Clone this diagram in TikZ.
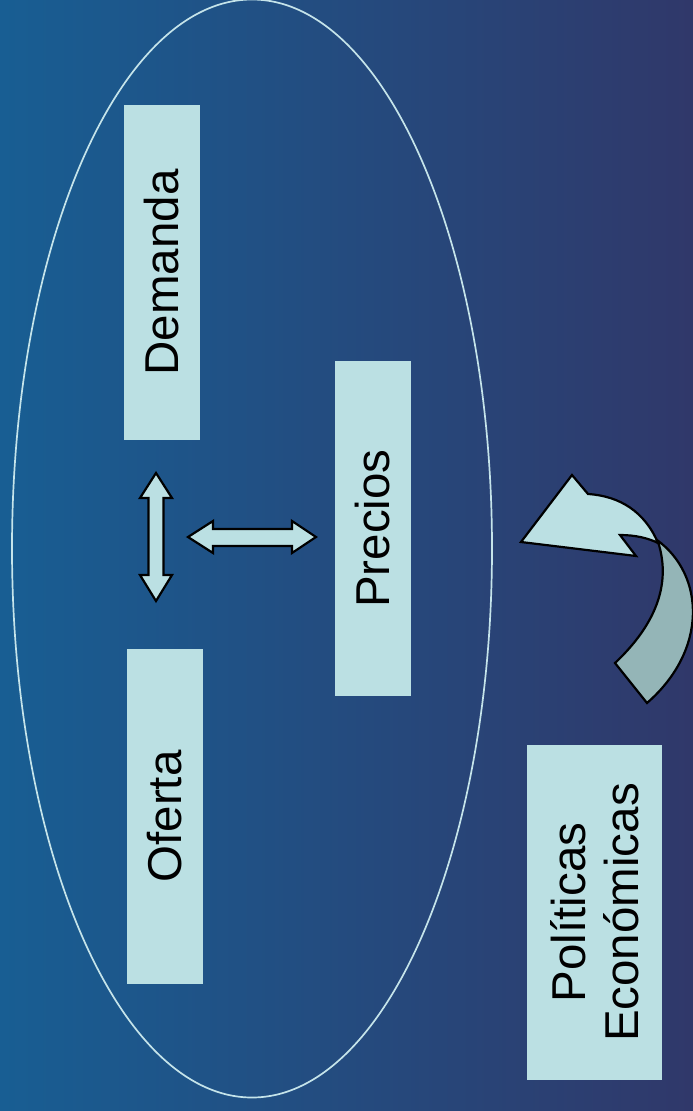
\documentclass[tikz,border=0pt]{standalone}
\usepackage{fontspec}
\setmainfont{Liberation Sans}
\definecolor{bgL}{HTML}{185E93}
\definecolor{bgR}{HTML}{30386A}
\definecolor{boxc}{HTML}{BBE0E3}
\definecolor{darkc}{HTML}{94B5B7}
\definecolor{ellc}{HTML}{C5E4EA}
\begin{document}
\begin{tikzpicture}[x=1pt,y=-1pt,
  box/.style={fill=boxc, rotate=90, inner sep=0pt, font=\fontsize{47.5}{53}\selectfont, align=center, text=black},
  blockarrow/.style={fill=boxc, draw=black, line width=2.2pt, line join=miter},
  backarrow/.style={fill=darkc, draw=black, line width=2.2pt, line join=miter}]
\shade[left color=bgL, right color=bgR] (0,0) rectangle (693,1111);
\useasboundingbox (0,0) rectangle (693,1111);
\draw[ellc, line width=1.7pt] (252,548.5) ellipse [x radius=240, y radius=549];
\node[box, minimum width=335pt, minimum height=76pt] (demanda) at (162,272.5) {Demanda};
\node[box, minimum width=335pt, minimum height=76pt] (precios) at (373,528.5) {Precios};
\node[box, minimum width=335pt, minimum height=76pt] (oferta) at (165,816.5) {Oferta};
\node[box, minimum width=335pt, minimum height=135pt] (politicas) at (594.5,912.5) {Políticas\\Económicas};
% vertical double arrow
\draw[blockarrow] (156,473) -- (172,498) -- (163.5,498) -- (163.5,575) -- (172,575) -- (156,601)
  -- (140,575) -- (148.5,575) -- (148.5,498) -- (140,498) -- cycle;
% horizontal double arrow
\draw[blockarrow] (188,537) -- (213,521) -- (213,529) -- (292,529) -- (292,521) -- (316,537)
  -- (292,553) -- (292,546) -- (213,546) -- (213,553) -- cycle;
% curved arrow, back part
\draw[backarrow] (657,540) .. controls (705,575) and (708,650) .. (647,703) -- (615,663)
  .. controls (650,630) and (672,590) .. (659,545) -- cycle;
% curved arrow, front part
\draw[blockarrow] (521,542) -- (572,475) -- (588,494) .. controls (620,496) and (645,512) .. (658,543)
  .. controls (648,538) and (635,535) .. (620,535) -- (636,556) -- cycle;
\end{tikzpicture}
\end{document}
